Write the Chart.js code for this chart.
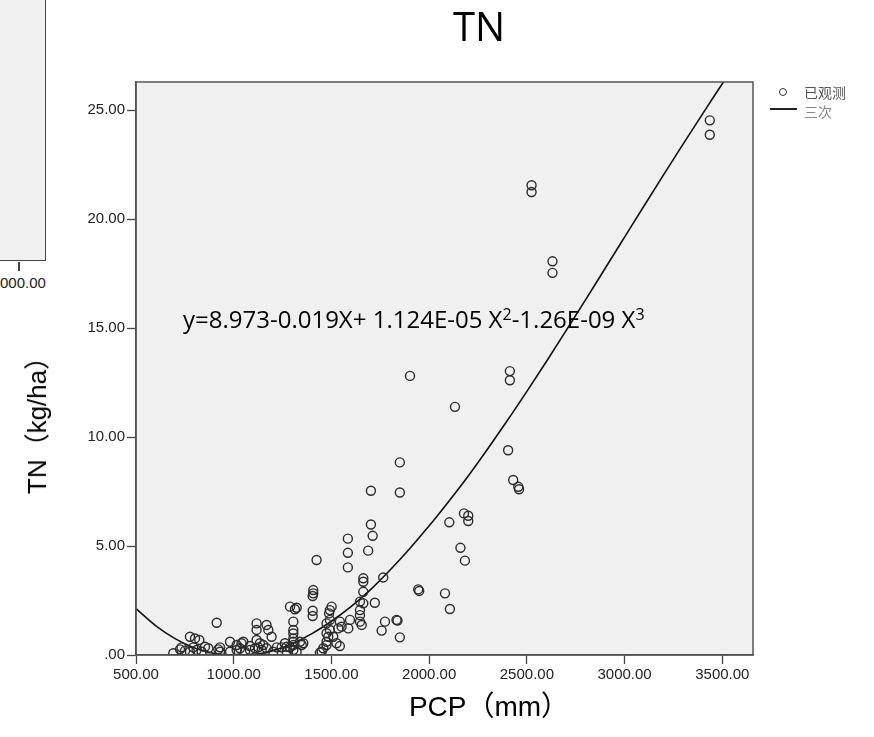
<!DOCTYPE html>
<html>
<head>
<meta charset="utf-8">
<script src="https://cdn.jsdelivr.net/npm/chart.js@4.4.1/dist/chart.umd.min.js"></script>
<style>
  body { margin: 0; background: #fff; }
  #wrap { position: relative; width: 874px; height: 737px; overflow: hidden; }
  canvas { position: absolute; left: 0; top: 0; }
  .txt { position: absolute; white-space: nowrap; }
  #title { left: 0; width: 958px; text-align: center; top: 2px; font: 40px "Open Sans", sans-serif; color: #000; line-height: 48px; }
  #xtitle { left: 0; width: 978px; text-align: center; top: 690px; font: 28px "Liberation Sans", "Noto Sans CJK SC", sans-serif; color: #000; line-height: 34px; }
  #ytitle { left: 37px; top: 419px; font: 26px "Liberation Sans", "Noto Sans CJK SC", sans-serif; color: #000; line-height: 30px;
            transform: translate(-50%, -50%) rotate(-90deg); }
  #eq { left: 183px; top: 307px; font: 24px "Open Sans", sans-serif; color: #000; line-height: 24px; }
  #eq sup { font-size: 16px; vertical-align: 8px; line-height: 0; }
  .leg { font: 14px "Noto Sans CJK SC", sans-serif; line-height: 16px; left: 804px; }
  #prev { position: absolute; left: 0; top: 0; width: 45px; height: 260px; background: #f0f0f0;
          border-right: 1.5px solid #444; border-bottom: 1.5px solid #444; }
  #prevTick { position: absolute; left: 18px; top: 262px; width: 1.5px; height: 9px; background: #444; }
  #prevLbl { left: 0; top: 275px; font: 15px "Liberation Sans", sans-serif; color: #222; line-height: 15px; }
</style>
</head>
<body>
<div id="wrap">
  <div id="prev"></div>
  <div id="prevTick"></div>
  <div class="txt" id="prevLbl">000.00</div>
  <canvas id="tnChart" width="874" height="737"></canvas>
  <div class="txt" id="title">TN</div>
  <div class="txt" id="xtitle">PCP（mm）</div>
  <div class="txt" id="ytitle">TN（kg/ha）</div>
  <div class="txt" id="eq">y=8.973-0.019X+ 1.124E-05 X<sup>2</sup>-1.26E-09 X<sup>3</sup></div>
  <div style="position:absolute;left:779px;top:88px;width:6px;height:6px;border:1.5px solid #333;border-radius:50%;"></div>
  <div class="txt leg" style="top:84px;color:#555;">已观测</div>
  <div style="position:absolute;left:770px;top:108px;width:27px;height:2px;background:#222;"></div>
  <div class="txt leg" style="top:103px;color:#888;">三次</div>
</div>
<script>
// tick labels
const xTicks = [500, 1000, 1500, 2000, 2500, 3000, 3500];
const yTicks = [0, 5, 10, 15, 20, 25];

const pcp = [
  3436, 3436, 2524, 2524, 2631, 2631, 1902, 2132, 2413, 2413,
  2404, 2430, 2456, 2460, 2103, 2178, 2200, 2200, 2160, 2183,
  2081, 2106, 1944, 1949, 1850, 1702, 1850, 1702, 1711, 1584,
  1584, 1688, 1424, 1584, 1663, 1663, 1765, 1663, 1722, 1646,
  1663, 1407, 1407, 1404, 1404, 1404, 1288, 1313, 1322, 1305,
  1305, 1305, 1305, 1305, 1305, 1305, 1501, 1492, 1488, 1492,
  1475, 1543, 1552, 1535, 1586, 1595, 1646, 1646, 1646, 1655,
  1492, 1475, 1484, 1475, 1475, 1458, 1450, 1441, 1509, 1526,
  1543, 1833, 1838, 1774, 1757, 1850, 913, 1117, 1117, 1168,
  1177, 776, 802, 824, 981, 1049, 1194, 1117, 1134, 1262,
  1271, 1339, 1356, 1348, 691, 725, 751, 776, 810, 836,
  870, 921, 930, 981, 1015, 1032, 1058, 1083, 1109, 1143,
  1168, 1202, 1245, 1271, 1322, 733, 930, 1015, 1040, 1083,
  1126, 1151, 1220, 1288, 853, 793
];
const tn = [
  24.54, 23.88, 21.56, 21.25, 18.07, 17.54, 12.81, 11.39, 13.03, 12.61,
  9.40, 8.03, 7.72, 7.61, 6.09, 6.50, 6.39, 6.15, 4.92, 4.33,
  2.83, 2.11, 3.01, 2.94, 8.84, 7.54, 7.46, 5.99, 5.47, 5.34,
  4.69, 4.79, 4.36, 4.02, 3.52, 3.36, 3.56, 2.90, 2.40, 2.45,
  2.37, 2.98, 2.83, 2.71, 2.03, 1.79, 2.22, 2.10, 2.17, 1.53,
  1.15, 0.99, 0.76, 0.61, 0.46, 0.23, 2.22, 2.06, 1.91, 1.61,
  1.45, 1.53, 1.30, 1.22, 1.22, 1.61, 2.06, 1.83, 1.53, 1.38,
  1.15, 1.00, 0.84, 0.61, 0.46, 0.31, 0.15, 0.11, 0.84, 0.54,
  0.41, 1.61, 1.58, 1.53, 1.12, 0.81, 1.48, 1.45, 1.15, 1.38,
  1.15, 0.84, 0.76, 0.69, 0.61, 0.61, 0.84, 0.69, 0.54, 0.54,
  0.38, 0.61, 0.54, 0.46, 0.08, 0.26, 0.20, 0.15, 0.23, 0.15,
  0.31, 0.26, 0.15, 0.15, 0.23, 0.31, 0.15, 0.23, 0.31, 0.23,
  0.31, 0.15, 0.35, 0.15, 0.15, 0.35, 0.35, 0.46, 0.54, 0.41,
  0.35, 0.46, 0.35, 0.35, 0.38, 0.35
];

// cubic fit line
const curvePcp = [500, 600, 700, 800, 900, 1000, 1100, 1200, 1300, 1400, 1500, 1600, 1700, 1800,
  1900, 2000, 2100, 2200, 2300, 2400, 2500, 2600, 2700, 2800, 2900, 3000, 3100, 3200, 3300, 3400, 3500, 3560];
const curveTn = [2.13, 1.35, 0.75, 0.32, 0.07, 0.01, 0.02, 0.2, 0.52, 0.98, 1.55, 2.22, 3.0, 3.9,
  4.88, 5.93, 7.05, 8.22, 9.47, 10.76, 12.1, 13.47, 14.88, 16.3, 17.74, 19.18, 20.62, 22.05, 23.46, 24.85, 26.22, 27.0];

const observed = pcp.map((x, i) => ({ x, y: tn[i] }));
const curve = curvePcp.map((x, i) => ({ x, y: curveTn[i] }));

const fmt = v => (v === 0 ? ".00" : Number(v).toFixed(2));

const plotBg = {
  id: "plotBg",
  beforeDraw(chart) {
    const { ctx, chartArea: a } = chart;
    ctx.save();
    ctx.fillStyle = "#f0f0f0";
    ctx.fillRect(a.left, a.top, a.right - a.left, a.bottom - a.top);
    ctx.restore();
  },
  afterDraw(chart) {
    const { ctx, chartArea: a } = chart;
    ctx.save();
    ctx.strokeStyle = "#555";
    ctx.lineWidth = 1.5;
    ctx.strokeRect(a.left, a.top, a.right - a.left, a.bottom - a.top);
    ctx.restore();
  }
};

const tickFont = { family: "Liberation Sans, Arial, sans-serif", size: 15 };

new Chart(document.getElementById("tnChart"), {
  type: "scatter",
  data: {
    datasets: [
      {
        label: "已观测",
        data: observed,
        pointStyle: "circle",
        pointRadius: 4.5,
        borderWidth: 1.4,
        borderColor: "#2b2b2b",
        backgroundColor: "rgba(0,0,0,0)"
      },
      {
        label: "三次",
        data: curve,
        showLine: true,
        pointRadius: 0,
        borderColor: "#111",
        borderWidth: 1.6,
        cubicInterpolationMode: "monotone"
      }
    ]
  },
  options: {
    responsive: false,
    animation: false,
    layout: { padding: { top: 82, right: 121, left: 0, bottom: 0 } },
    plugins: { legend: { display: false }, tooltip: { enabled: false } },
    scales: {
      x: {
        type: "linear",
        min: 500,
        max: 3657,
        afterBuildTicks: axis => { axis.ticks = xTicks.map(v => ({ value: v })); },
        afterFit: s => { s.height = 82; },
        grid: { drawOnChartArea: false, tickLength: 9, color: "#444", tickWidth: 1.3 },
        border: { color: "#444", width: 1.5 },
        ticks: { font: tickFont, color: "#222", padding: 2, maxRotation: 0, callback: fmt }
      },
      y: {
        min: 0,
        max: 26.3,
        afterBuildTicks: axis => { axis.ticks = yTicks.map(v => ({ value: v })); },
        afterFit: s => { s.width = 136; },
        grid: { drawOnChartArea: false, tickLength: 9, color: "#444", tickWidth: 1.3 },
        border: { color: "#444", width: 1.5 },
        ticks: { font: tickFont, color: "#222", padding: 2, callback: fmt }
      }
    }
  },
  plugins: [plotBg]
});
</script>
</body>
</html>
